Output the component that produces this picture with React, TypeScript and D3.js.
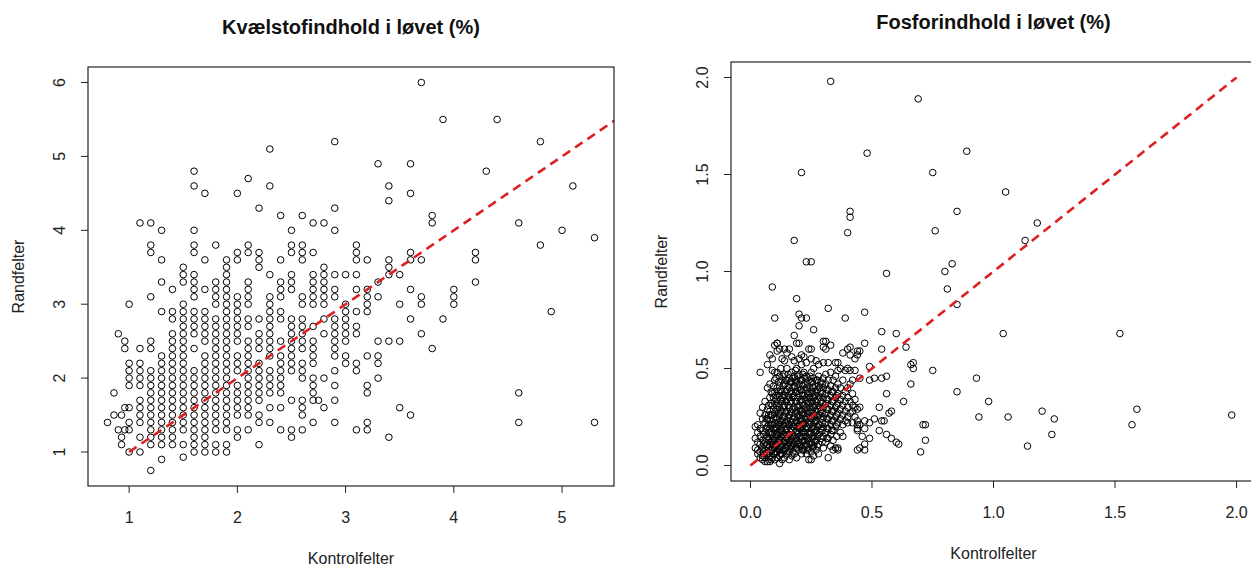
import React from 'react';
import * as d3 from 'd3';

const W = 1251;
const H = 566;
const FONT = "'Liberation Sans', Arial, sans-serif";

// Kvælstof: x = Kontrolfelter (%), list = Randfelter values in tenths of a percent
const nitrogenColumns: [number, number[]][] = [
  [0.8, [14]],
  [0.86, [18, 15]],
  [0.9, [26, 13]],
  [0.93, [15, 11, 12]],
  [0.96, [16, 13, 25, 24]],
  [1.0, [30, 22, 21, 20, 19, 16, 14, 13, 10]],
  [1.1, [41, 24, 22, 21, 20, 19, 17, 16, 15, 14, 12, 10]],
  [1.2, [41, 38, 37, 31, 25, 24, 21, 20, 19, 18, 17, 16, 15, 14, 13, 12, 11, 7.5]],
  [1.3, [40, 36, 33, 29, 23, 22, 21, 20, 19, 18, 17, 16, 15, 14, 13, 12, 11, 9]],
  [1.4, [32, 29, 28, 26, 25, 24, 23, 22, 21, 20, 19, 18, 17, 16, 15, 14, 13, 12, 11]],
  [1.5, [35, 34, 33, 30, 29, 28, 27, 26, 25, 24, 23, 22, 21, 20, 19, 18, 17, 16, 15, 14, 13, 11, 9.3]],
  [1.6, [48, 46, 40, 38, 37, 34, 33, 32, 31, 29, 28, 27, 26, 24, 21, 20, 19, 18, 17, 16, 15, 14, 13, 12, 11, 10]],
  [1.7, [45, 36, 32, 29, 28, 27, 26, 25, 23, 22, 21, 20, 19, 18, 17, 16, 15, 14, 13, 12, 11, 10]],
  [1.8, [38, 33, 32, 31, 30, 28, 27, 26, 25, 24, 23, 22, 21, 20, 19, 18, 17, 16, 15, 14, 13, 11, 10]],
  [1.9, [36, 35, 34, 33, 32, 31, 30, 29, 28, 27, 26, 25, 24, 23, 22, 21, 20, 19, 18, 17, 16, 15, 14, 13, 11, 10]],
  [2.0, [45, 37, 36, 31, 30, 29, 28, 27, 26, 25, 23, 22, 21, 19, 18, 17, 16, 15, 13, 12]],
  [2.1, [47, 38, 37, 33, 32, 31, 30, 28, 27, 25, 24, 23, 22, 21, 20, 19, 18, 17, 16, 15, 13]],
  [2.2, [43, 37, 36, 35, 28, 26, 25, 24, 22, 21, 20, 19, 18, 17, 15, 14, 11]],
  [2.3, [51, 46, 34, 31, 30, 29, 28, 27, 26, 25, 24, 23, 21, 20, 19, 18, 16, 14]],
  [2.4, [42, 36, 33, 32, 31, 29, 28, 25, 23, 22, 21, 20, 19, 18, 16, 13]],
  [2.5, [40, 38, 37, 34, 33, 32, 28, 27, 26, 25, 24, 23, 22, 21, 17, 13, 12]],
  [2.6, [42, 38, 37, 36, 31, 30, 28, 27, 26, 25, 24, 22, 21, 20, 17, 16, 15, 13]],
  [2.7, [41, 37, 34, 33, 32, 31, 30, 27, 25, 24, 23, 22, 20, 19, 18, 17, 14]],
  [2.75, [17]],
  [2.8, [41, 35, 34, 33, 32, 31, 30, 28, 26, 20, 16]],
  [2.9, [52, 43, 40, 34, 32, 31, 28, 27, 26, 25, 24, 23, 21, 19, 17, 14]],
  [3.0, [34, 30, 29, 28, 27, 26, 25, 23, 22]],
  [3.1, [38, 37, 36, 34, 32, 29, 27, 26, 22, 21, 13]],
  [3.2, [36, 32, 31, 30, 29, 23, 19, 18, 14, 13]],
  [3.3, [49, 33, 31, 25, 23, 22, 20]],
  [3.4, [46, 44, 36, 35, 34, 25, 12]],
  [3.5, [34, 30, 25, 16]],
  [3.6, [49, 45, 37, 36, 32, 28, 15]],
  [3.7, [60, 36, 31, 30, 26]],
  [3.8, [42, 41, 24]],
  [3.9, [55, 28]],
  [4.0, [32, 31, 30]],
  [4.2, [37, 36, 33]],
  [4.3, [48]],
  [4.4, [55]],
  [4.6, [41, 18, 14]],
  [4.8, [52, 38]],
  [4.9, [29]],
  [5.0, [40]],
  [5.1, [46]],
  [5.3, [39, 14]],
];
const nitrogenXTicks = [1, 2, 3, 4, 5];
const nitrogenYTicks = [1, 2, 3, 4, 5, 6];

// Fosfor: cluster, x in hundredths -> Randfelter values in hundredths
const phosphorusCluster: [number, number[]][] = [
  [2, [20, 14, 9]],
  [3, [21, 17, 12, 8, 6]],
  [4, [48, 27, 19, 15, 11, 7, 4]],
  [5, [30, 24, 18, 13, 9, 5, 3]],
  [6, [33, 26, 22, 17, 12, 8, 4, 2]],
  [7, [52, 40, 29, 24, 20, 15, 11, 6, 2]],
  [8, [57, 42, 35, 28, 23, 19, 14, 10, 5, 2]],
  [9, [55, 49, 37, 31, 26, 21, 16, 12, 8, 4]],
  [10, [62, 48, 44, 38, 33, 27, 22, 18, 13, 9, 6, 3]],
  [11, [63, 59, 48, 40, 34, 29, 24, 19, 15, 11, 7, 4]],
  [12, [60, 46, 41, 36, 30, 26, 21, 17, 13, 8, 5, 1]],
  [13, [55, 44, 38, 33, 28, 23, 18, 14, 10, 6, 3]],
  [14, [60, 54, 47, 42, 36, 31, 25, 20, 16, 12, 8, 4]],
  [15, [58, 50, 44, 39, 34, 28, 23, 19, 14, 10, 6]],
  [16, [60, 45, 40, 35, 30, 26, 21, 16, 12, 7, 3]],
  [17, [56, 48, 43, 37, 32, 27, 22, 18, 13, 9, 5]],
  [18, [54, 46, 41, 36, 30, 25, 20, 15, 11, 6]],
  [19, [63, 50, 44, 38, 33, 28, 23, 18, 14, 9, 4]],
  [20, [63, 55, 47, 42, 37, 31, 26, 21, 17, 12, 8]],
  [21, [57, 52, 44, 39, 34, 29, 24, 19, 15, 10, 6]],
  [22, [56, 48, 42, 36, 31, 27, 22, 17, 13, 8]],
  [23, [53, 46, 40, 35, 30, 25, 20, 15, 11, 6]],
  [24, [60, 44, 38, 33, 28, 23, 19, 14, 9, 3]],
  [25, [60, 55, 48, 43, 37, 32, 27, 22, 17, 12, 7, 3]],
  [26, [50, 45, 40, 35, 30, 25, 20, 15, 10, 5]],
  [27, [54, 44, 38, 33, 28, 23, 18, 13, 8]],
  [28, [52, 46, 41, 36, 31, 26, 21, 16, 11, 6]],
  [29, [43, 38, 33, 28, 24, 19, 14]],
  [30, [64, 61, 53, 45, 40, 35, 30, 25, 20, 15, 9]],
  [31, [60, 47, 42, 37, 32, 27, 22, 17, 12]],
  [32, [53, 44, 39, 34, 29, 24, 19, 14, 4]],
  [33, [62, 48, 41, 36, 31, 26, 21, 16, 10]],
  [34, [44, 38, 33, 28, 23, 18, 13, 8]],
  [35, [53, 46, 40, 35, 30, 25, 20, 9]],
  [36, [53, 49, 42, 37, 32, 27, 22, 9, 8]],
  [37, [50, 40, 34, 29, 24, 17]],
  [38, [58, 44, 36, 31, 26, 21, 15]],
  [39, [49, 38, 33, 28, 23]],
  [40, [60, 50, 40, 35, 30, 25, 22]],
  [41, [61, 57, 49, 42, 33, 27]],
  [42, [44, 37, 31, 28, 22]],
  [43, [55, 49, 34, 30, 25]],
  [44, [59, 57, 29, 23, 21, 19, 18, 8]],
  [45, [59, 45, 30, 21, 9]],
];

// Fosfor: the darkest core of the cluster, same units
const phosphorusCore: [number, number[]][] = [
  [5.5, [16, 11, 7]],
  [6.5, [24, 19, 14, 10, 6]],
  [7.5, [31, 26, 21, 17, 13, 9, 4]],
  [8.5, [38, 32, 26, 21, 17, 12, 8, 3]],
  [9.5, [41, 35, 29, 24, 19, 14, 10, 6]],
  [10.5, [45, 36, 31, 25, 20, 16, 11, 7]],
  [11.5, [43, 38, 32, 27, 22, 17, 13, 9]],
  [12.5, [50, 39, 34, 28, 23, 19, 15, 10, 6]],
  [13.5, [46, 41, 35, 30, 25, 21, 16, 12, 8]],
  [14.5, [44, 38, 33, 27, 22, 18, 13, 9]],
  [15.5, [47, 41, 36, 31, 25, 21, 16, 12, 8]],
  [16.5, [43, 38, 33, 28, 23, 19, 14, 10]],
  [17.5, [45, 40, 35, 29, 24, 20, 15, 11, 7]],
  [18.5, [49, 43, 38, 33, 27, 22, 17, 13, 9]],
  [19.5, [46, 40, 35, 30, 25, 20, 16, 11]],
  [20.5, [44, 39, 33, 28, 23, 19, 14, 10]],
  [21.5, [47, 41, 36, 31, 26, 21, 17, 12, 8]],
  [22.5, [45, 39, 34, 29, 24, 19, 15, 10]],
  [23.5, [42, 37, 32, 27, 22, 17, 13, 8]],
  [24.5, [46, 40, 35, 30, 25, 21, 16, 11]],
  [25.5, [43, 38, 33, 28, 24, 19, 14, 9]],
  [26.5, [41, 36, 31, 26, 22, 17, 12]],
  [27.5, [44, 39, 34, 29, 25, 20, 15, 10]],
  [28.5, [40, 35, 30, 26, 21, 17]],
  [29.5, [42, 37, 32, 27, 22, 18, 12]],
  [31.5, [39, 34, 29, 24, 19, 14]],
  [33.5, [38, 33, 28, 23, 18]],
  [35.5, [36, 31, 26, 21, 15]],
];

// Fosfor: scattered points outside the cluster [Kontrolfelter, Randfelter]
const phosphorusScattered: [number, number][] = [
  [0.33, 1.98], [0.69, 1.89], [0.48, 1.61], [0.89, 1.62], [0.21, 1.51], [0.75, 1.51],
  [1.05, 1.41], [0.41, 1.31], [0.41, 1.28], [0.85, 1.31], [0.40, 1.20], [0.76, 1.21],
  [1.18, 1.25], [0.18, 1.16], [1.13, 1.16], [0.23, 1.05], [0.25, 1.05], [0.83, 1.04],
  [0.56, 0.99], [0.80, 1.00], [0.81, 0.91], [0.09, 0.92], [0.19, 0.86], [0.32, 0.81],
  [0.85, 0.83], [0.10, 0.76], [0.20, 0.78], [0.21, 0.76], [0.23, 0.76], [0.39, 0.76],
  [0.47, 0.79], [0.20, 0.72], [0.26, 0.70], [0.18, 0.67], [0.54, 0.69], [0.60, 0.68],
  [1.04, 0.68], [1.52, 0.68], [0.11, 0.63], [0.31, 0.64], [0.47, 0.63], [0.64, 0.61],
  [0.54, 0.60], [0.66, 0.52], [0.67, 0.53], [0.67, 0.50], [0.75, 0.49], [0.93, 0.45],
  [0.85, 0.38], [0.66, 0.42], [0.56, 0.46], [0.56, 0.37], [0.63, 0.33], [0.98, 0.33],
  [1.20, 0.28], [1.59, 0.29], [0.94, 0.25], [1.06, 0.25], [1.25, 0.24], [1.98, 0.26],
  [1.57, 0.21], [0.71, 0.21], [0.72, 0.21], [1.24, 0.16], [0.72, 0.13], [0.70, 0.07],
  [1.14, 0.10], [0.58, 0.28], [0.57, 0.27], [0.53, 0.30], [0.55, 0.23], [0.54, 0.23],
  [0.53, 0.18], [0.56, 0.16], [0.58, 0.14], [0.60, 0.12], [0.61, 0.11], [0.49, 0.44],
  [0.51, 0.45], [0.54, 0.45], [0.49, 0.51], [0.47, 0.23], [0.47, 0.19], [0.46, 0.15],
  [0.49, 0.14], [0.47, 0.08], [0.47, 0.11], [0.51, 0.24], [0.49, 0.22],
];
const phosphorusTicks = [0, 0.5, 1, 1.5, 2];

type Pt = [number, number];

const nitrogenPoints: Pt[] = nitrogenColumns.flatMap(([x, ys]) => ys.map(y => [x, y / 10] as Pt));
const phosphorusPoints: Pt[] = [
  ...phosphorusCluster.flatMap(([x, ys]) => ys.map(y => [x / 100, y / 100] as Pt)),
  ...phosphorusCore.flatMap(([x, ys]) => ys.map(y => [x / 100, y / 100] as Pt)),
  ...phosphorusScattered,
];

// R style range: extend 4% on each side
function rRange([lo, hi]: number[]) {
  const pad = (hi - lo) * 0.04;
  return [lo - pad, hi + pad];
}

function Panel({id, box, points, xDomain, yDomain, xTicks, yTicks, fmt, seg, title}) {
  const x = d3.scaleLinear().domain(xDomain).range([box.left, box.left + box.width]);
  const y = d3.scaleLinear().domain(yDomain).range([box.top + box.height, box.top]);
  const bottom = box.top + box.height;
  const line = d3.line<Pt>().x(d => x(d[0])).y(d => y(d[1]));

  return (
    <g fontFamily={FONT}>
      <clipPath id={id}>
        <rect x={box.left} y={box.top} width={box.width} height={box.height} />
      </clipPath>

      <text x={box.left + box.width / 2} y={box.top - 40} textAnchor="middle"
            dominantBaseline="central" fontSize={20} fontWeight="bold" fill="#111">
        {title}
      </text>

      <g clipPath={`url(#${id})`}>
        {points.map((d, i) => (
          <circle key={i} cx={x(d[0])} cy={y(d[1])} r={3.3}
                  fill="none" stroke="#000" strokeWidth={1} />
        ))}
        <path d={line(seg)} fill="none" stroke="#dd1f1f" strokeWidth={2.6}
              strokeDasharray="9,6" />
      </g>

      <rect x={box.left} y={box.top} width={box.width} height={box.height}
            fill="none" stroke="#222" strokeWidth={1.2} />

      {xTicks.map(t => (
        <g key={t}>
          <line x1={x(t)} x2={x(t)} y1={bottom} y2={bottom + 7} stroke="#222" />
          <text x={x(t)} y={bottom + 31} textAnchor="middle" dominantBaseline="central"
                fontSize={16} fill="#222">{fmt(t)}</text>
        </g>
      ))}
      {yTicks.map(t => (
        <g key={t}>
          <line x1={box.left - 7} x2={box.left} y1={y(t)} y2={y(t)} stroke="#222" />
          <text transform={`translate(${box.left - 29},${y(t)}) rotate(-90)`}
                textAnchor="middle" dominantBaseline="central" fontSize={16} fill="#222">
            {fmt(t)}
          </text>
        </g>
      ))}

      <text x={box.left + box.width / 2} y={bottom + 72} textAnchor="middle"
            dominantBaseline="central" fontSize={16} fill="#222">Kontrolfelter</text>
      <text transform={`translate(${box.left - 70},${box.top + box.height / 2}) rotate(-90)`}
            textAnchor="middle" dominantBaseline="central" fontSize={16} fill="#222">
        Randfelter
      </text>
    </g>
  );
}

export default function App() {
  const nx = rRange(d3.extent(nitrogenPoints, d => d[0]) as number[]);
  const ny = rRange(d3.extent(nitrogenPoints, d => d[1]) as number[]);
  const plim = rRange([0, 2]);

  return (
    <svg width={W} height={H} viewBox={`0 0 ${W} ${H}`}
         style={{position: 'absolute', left: 0, top: 0, display: 'block', background: '#fff'}}>
      <Panel id="clip-n"
             box={{left: 88, top: 67, width: 526, height: 419}}
             points={nitrogenPoints}
             xDomain={nx} yDomain={ny}
             xTicks={nitrogenXTicks} yTicks={nitrogenYTicks}
             fmt={d => String(d)}
             seg={[[1, 1], [6, 6]]}
             title="Kvælstofindhold i løvet (%)" />
      <Panel id="clip-p"
             box={{left: 731, top: 62, width: 525, height: 419}}
             points={phosphorusPoints}
             xDomain={plim} yDomain={plim}
             xTicks={phosphorusTicks} yTicks={phosphorusTicks}
             fmt={d => d3.format('.1f')(d)}
             seg={[[0, 0], [2, 2]]}
             title="Fosforindhold i løvet (%)" />
    </svg>
  );
}
